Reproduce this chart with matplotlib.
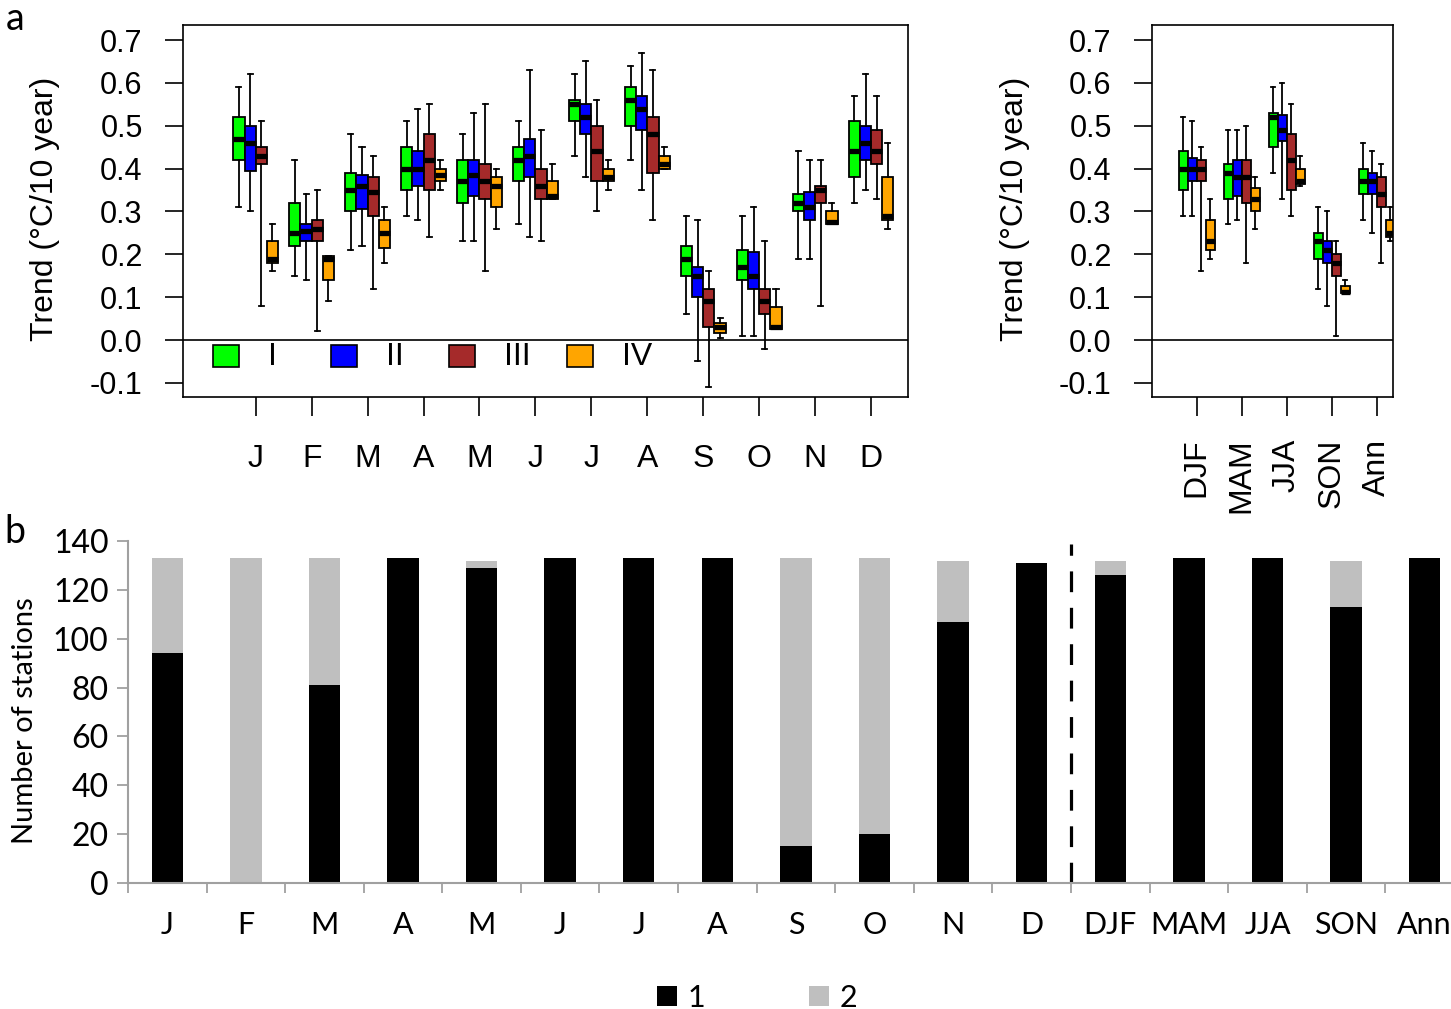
import matplotlib
matplotlib.use("Agg")
import matplotlib.pyplot as plt
from matplotlib.patches import Patch, Rectangle
import numpy as np

# ---- data: (whisker low, q1, median, q3, whisker high) ----
months = ['J', 'F', 'M', 'A', 'M', 'J', 'J', 'A', 'S', 'O', 'N', 'D']
seasons = ['DJF', 'MAM', 'JJA', 'SON', 'Ann']
groups = ['I', 'II', 'III', 'IV']
group_colors = ['#00ff00', '#0000ff', '#a52a2a', '#ffa500']

month_I = [(0.31, 0.42, 0.47, 0.52, 0.59), (0.15, 0.22, 0.25, 0.32, 0.42),
           (0.21, 0.30, 0.35, 0.39, 0.48), (0.29, 0.35, 0.40, 0.45, 0.51),
           (0.23, 0.32, 0.37, 0.42, 0.48), (0.27, 0.37, 0.42, 0.45, 0.51),
           (0.43, 0.51, 0.55, 0.56, 0.62), (0.42, 0.50, 0.56, 0.59, 0.64),
           (0.06, 0.15, 0.19, 0.22, 0.29), (0.01, 0.14, 0.17, 0.21, 0.29),
           (0.19, 0.30, 0.32, 0.34, 0.44), (0.32, 0.38, 0.44, 0.51, 0.57)]
month_II = [(0.30, 0.395, 0.46, 0.50, 0.62), (0.14, 0.23, 0.255, 0.27, 0.34),
            (0.22, 0.305, 0.36, 0.385, 0.45), (0.28, 0.36, 0.40, 0.44, 0.54),
            (0.23, 0.335, 0.385, 0.42, 0.53), (0.24, 0.38, 0.43, 0.47, 0.63),
            (0.38, 0.48, 0.52, 0.55, 0.65), (0.35, 0.49, 0.54, 0.57, 0.67),
            (-0.05, 0.10, 0.15, 0.17, 0.28), (0.01, 0.12, 0.15, 0.205, 0.31),
            (0.19, 0.28, 0.31, 0.345, 0.42), (0.35, 0.42, 0.46, 0.50, 0.62)]
month_III = [(0.08, 0.41, 0.43, 0.45, 0.51), (0.02, 0.23, 0.26, 0.28, 0.35),
             (0.12, 0.29, 0.345, 0.38, 0.43), (0.24, 0.35, 0.42, 0.48, 0.55),
             (0.16, 0.33, 0.37, 0.41, 0.55), (0.23, 0.33, 0.36, 0.40, 0.49),
             (0.30, 0.37, 0.44, 0.50, 0.56), (0.28, 0.39, 0.48, 0.52, 0.63),
             (-0.11, 0.03, 0.09, 0.12, 0.16), (-0.02, 0.06, 0.09, 0.12, 0.23),
             (0.08, 0.32, 0.35, 0.36, 0.42), (0.33, 0.41, 0.44, 0.49, 0.57)]
month_IV = [(0.16, 0.18, 0.19, 0.23, 0.27), (0.09, 0.14, 0.19, 0.195, 0.195),
            (0.18, 0.215, 0.25, 0.28, 0.31), (0.35, 0.37, 0.385, 0.40, 0.42),
            (0.26, 0.31, 0.36, 0.38, 0.40), (0.33, 0.33, 0.335, 0.37, 0.41),
            (0.35, 0.37, 0.38, 0.40, 0.42), (0.40, 0.40, 0.41, 0.43, 0.45),
            (0.004, 0.017, 0.03, 0.039, 0.052), (0.025, 0.025, 0.03, 0.076, 0.12),
            (0.27, 0.27, 0.275, 0.30, 0.32), (0.26, 0.28, 0.29, 0.38, 0.46)]

season_I = [(0.29, 0.35, 0.40, 0.44, 0.52), (0.27, 0.33, 0.39, 0.41, 0.49),
            (0.39, 0.45, 0.52, 0.53, 0.59), (0.12, 0.19, 0.23, 0.25, 0.31),
            (0.28, 0.34, 0.37, 0.40, 0.46)]
season_II = [(0.29, 0.37, 0.40, 0.425, 0.51), (0.28, 0.335, 0.38, 0.42, 0.49),
             (0.33, 0.465, 0.49, 0.525, 0.60), (0.08, 0.18, 0.21, 0.23, 0.30),
             (0.25, 0.34, 0.37, 0.39, 0.44)]
season_III = [(0.16, 0.37, 0.40, 0.42, 0.45), (0.18, 0.32, 0.38, 0.42, 0.50),
              (0.29, 0.35, 0.42, 0.48, 0.55), (0.01, 0.15, 0.18, 0.20, 0.23),
              (0.18, 0.31, 0.34, 0.38, 0.41)]
season_IV = [(0.19, 0.21, 0.23, 0.28, 0.33), (0.26, 0.30, 0.33, 0.355, 0.38),
             (0.36, 0.365, 0.37, 0.40, 0.43), (0.109, 0.109, 0.113, 0.126, 0.14),
             (0.23, 0.24, 0.25, 0.28, 0.31)]

# number of stations per category
categories = months + seasons
n_type1 = [94, 0, 81, 133, 129, 133, 133, 133, 15, 20, 107, 131, 126, 133, 133, 113, 133]
n_type2 = [39, 133, 52, 0, 3, 0, 0, 0, 118, 113, 25, 0, 6, 0, 0, 19, 0]

plt.rcParams['font.family'] = ['Liberation Sans', 'DejaVu Sans']
CALIBRI = ['Lato', 'DejaVu Sans']
offsets = [-0.3, -0.1, 0.1, 0.3]


def to_stats(rows):
    return [dict(whislo=r[0], q1=r[1], med=r[2], q3=r[3], whishi=r[4], fliers=[])
            for r in rows]


def draw_boxes(ax, data, labels):
    x = np.arange(1, len(labels) + 1)
    for rows, off, col in zip(data, offsets, group_colors):
        ax.bxp(to_stats(rows), positions=x + off, widths=0.2, patch_artist=True,
               showfliers=False, manage_ticks=False, capwidths=0.09,
               boxprops=dict(facecolor=col, edgecolor='black', linewidth=1.3),
               medianprops=dict(color='black', linewidth=3.8),
               whiskerprops=dict(color='black', linewidth=1.3),
               capprops=dict(color='black', linewidth=1.3))
    ax.axhline(0, color='black', lw=1.2, zorder=0.5)
    ax.set_ylim(-0.133, 0.735)
    ax.set_yticks(np.arange(-0.1, 0.71, 0.1))
    ax.set_yticklabels(['%.1f' % v for v in np.arange(-0.1, 0.71, 0.1)])
    ax.set_xticks(x)
    ax.set_xticklabels(labels)
    ax.tick_params(axis='y', length=13, width=1.2, pad=16, labelsize=22)
    ax.tick_params(axis='x', length=14, width=1.2, pad=20, labelsize=23)
    for s in ax.spines.values():
        s.set_linewidth(1.2)


fig = plt.figure(figsize=(14.51, 10.09), dpi=100)

# ---- panel a, monthly ----
ax1 = fig.add_axes([0.1261, 0.6065, 0.4997, 0.3687])
draw_boxes(ax1, [month_I, month_II, month_III, month_IV], months)
ax1.set_xlim(-0.30, 12.66)
ax1.set_ylabel('Trend (°C/10 year)', fontsize=23)
ax1.yaxis.set_label_coords(-0.170, 0.505)

# legend drawn in axes fraction, like R's horizontal legend
for i, (g, col) in enumerate(zip(groups, group_colors)):
    x0 = 0.0414 + i * 0.1628
    ax1.add_patch(Rectangle((x0, 0.081), 0.0359, 0.059, transform=ax1.transAxes,
                            facecolor=col, edgecolor='black', lw=1.2))
    ax1.text(x0 + 0.0759, 0.108, g, transform=ax1.transAxes, fontsize=23,
             ha='left', va='center')

# ---- panel a, seasonal ----
ax2 = fig.add_axes([0.7939, 0.6065, 0.1661, 0.3687])
draw_boxes(ax2, [season_I, season_II, season_III, season_IV], seasons)
ax2.set_xlim(0.01, 5.356)
ax2.tick_params(axis='x', labelrotation=90, pad=16)
ax2.set_ylabel('Trend (°C/10 year)', fontsize=23)
ax2.yaxis.set_label_coords(-0.506, 0.505)

# ---- panel b ----
ax3 = fig.add_axes([0.0882, 0.1249, 0.9207, 0.3389])
xb = np.arange(len(categories))
ax3.bar(xb, n_type1, width=0.4, color='black', label='1')
ax3.bar(xb, n_type2, width=0.4, bottom=n_type1, color='#bfbfbf', label='2')
ax3.axvline(11.5, ymin=0, ymax=0.99, color='black', lw=2.3,
            linestyle=(0, (6.5, 4.9)))
ax3.set_xlim(-0.5, len(categories) - 0.5)
ax3.set_ylim(0, 140)
ax3.set_yticks(range(0, 141, 20))
ax3.set_xticks(xb)
ax3.set_xticklabels(categories)
ax3.set_xticks(np.arange(-0.5, len(categories)), minor=True)
ax3.tick_params(axis='x', which='major', length=0, pad=20, labelsize=22)
ax3.tick_params(axis='x', which='minor', length=7, width=1.3, color='#a0a0a0')
ax3.tick_params(axis='y', length=8, width=1.3, color='#a0a0a0', pad=6, labelsize=23)
for lab in ax3.get_xticklabels() + ax3.get_yticklabels():
    lab.set_fontfamily(CALIBRI)
ax3.spines['top'].set_visible(False)
ax3.spines['right'].set_visible(False)
for s in ['left', 'bottom']:
    ax3.spines[s].set_color('#a0a0a0')
    ax3.spines[s].set_linewidth(1.5)
ax3.set_ylabel('Number of stations', fontsize=21, family=CALIBRI)
ax3.yaxis.set_label_coords(-0.067, 0.474)

fig.legend(handles=[Patch(facecolor='black'), Patch(facecolor='#bfbfbf')],
           labels=['1', '2'], loc='center', bbox_to_anchor=(0.522, 0.011),
           ncol=2, frameon=False, handlelength=0.65, handleheight=0.65,
           handletextpad=0.35, columnspacing=3.4, prop={'family': CALIBRI, 'size': 22})

fig.text(0.004, 0.981, 'a', fontsize=27, family=CALIBRI, va='center')
fig.text(0.003, 0.473, 'b', fontsize=27, family=CALIBRI, va='center')

fig.savefig('out.png', dpi=100)
